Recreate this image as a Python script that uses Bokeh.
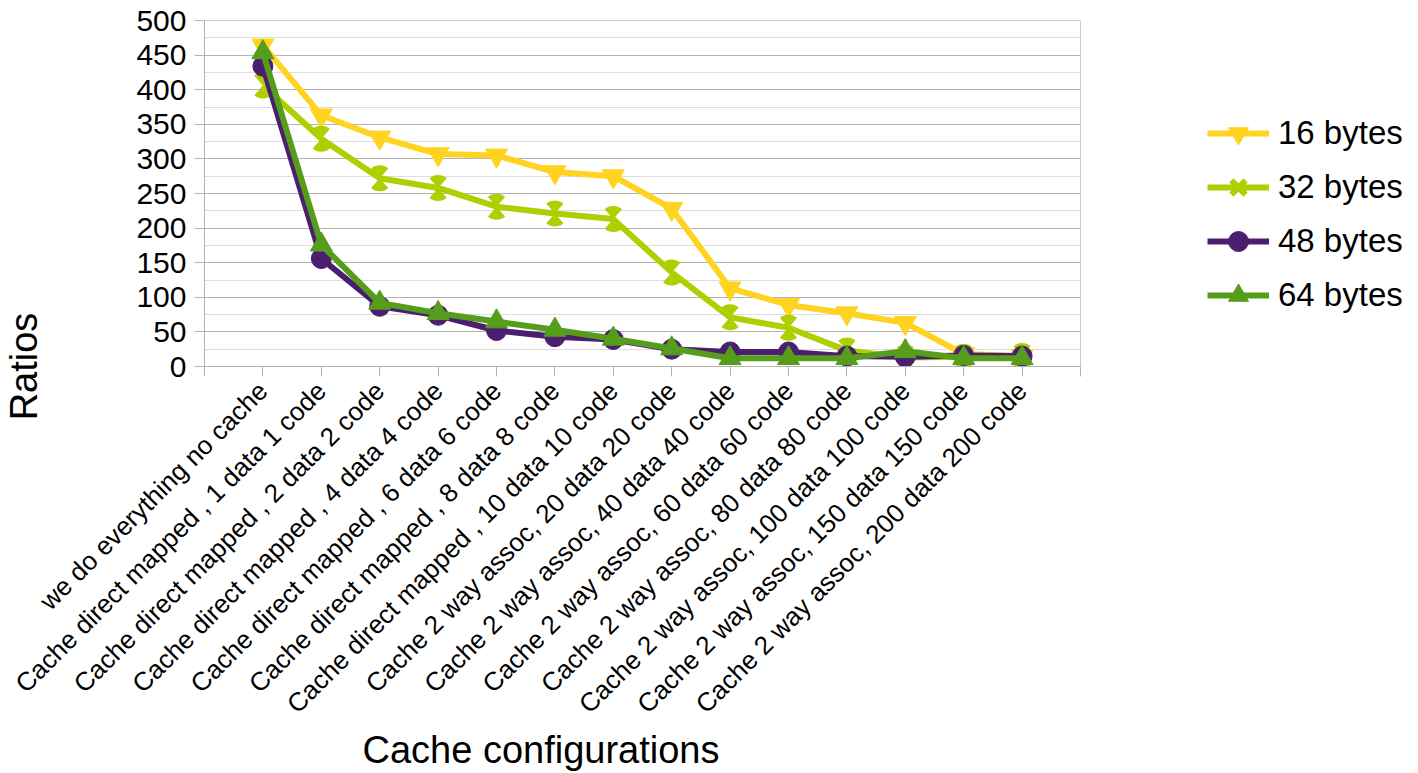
import numpy as np
from math import pi
from bokeh.plotting import figure
from bokeh.layouts import row
from bokeh.models import (FixedTicker, SingleIntervalTicker, Legend, LegendItem,
                          ColumnDataSource, Range1d, Title)
from bokeh.embed import file_html
from bokeh.resources import INLINE

categories = [
    "we do everything no cache",
    "Cache direct mapped , 1 data 1 code",
    "Cache direct mapped , 2 data 2 code",
    "Cache direct mapped , 4 data 4 code",
    "Cache direct mapped , 6 data 6 code",
    "Cache direct mapped , 8 data 8 code",
    "Cache direct mapped , 10 data 10 code",
    "Cache 2 way assoc, 20 data 20 code",
    "Cache 2 way assoc, 40 data 40 code",
    "Cache 2 way assoc, 60 data 60 code",
    "Cache 2 way assoc, 80 data 80 code",
    "Cache 2 way assoc, 100 data 100 code",
    "Cache 2 way assoc, 150 data 150 code",
    "Cache 2 way assoc, 200 data 200 code",
]
series_names = ["16 bytes", "32 bytes", "48 bytes", "64 bytes"]
bytes16 = [464, 363, 331, 307, 305, 281, 275, 228, 113, 89, 77, 63, 18, 15]
bytes32 = [406, 329, 272, 258, 231, 221, 213, 136, 71, 56, 23, 13, 14, 15]
bytes48 = [434, 156, 87, 74, 52, 43, 39, 25, 21, 21, 15, 14, 16, 15]
bytes64 = [454, 176, 92, 77, 65, 53, 40, 26, 12, 12, 12, 22, 12, 12]
y_ticks = list(range(0, 501, 50))

FONT = "Liberation Sans"
colors = ["#ffd320", "#aecf00", "#4b1f6f", "#579d1c"]

x = list(range(1, len(categories) + 1))

p = figure(width=1081, height=773, output_backend="svg", toolbar_location=None,
           x_range=Range1d(0, len(categories) + 1), y_range=Range1d(0, 500),
           min_border_left=202, min_border_right=1, min_border_top=20,
           min_border_bottom=407)
p.outline_line_color = "#cccccc"
p.outline_line_width = 1
p.background_fill_color = "white"
p.border_fill_color = "white"

# grid
p.xgrid.visible = False
p.ygrid.ticker = SingleIntervalTicker(interval=50, num_minor_ticks=2)
p.ygrid.grid_line_color = "#b3b3b3"
p.ygrid.minor_grid_line_color = "#dddddd"

# y axis
yax = p.yaxis[0]
yax.ticker = FixedTicker(ticks=y_ticks)
yax.axis_line_color = "#b3b3b3"
yax.major_tick_line_color = "#b3b3b3"
yax.major_tick_out = 10
yax.major_tick_in = 0
yax.minor_tick_line_color = None
yax.major_label_text_font = FONT
yax.major_label_text_font_size = "30px"
yax.major_label_text_color = "black"
yax.major_label_standoff = 8
yax.axis_label = "Ratios"
yax.axis_label_text_font = FONT
yax.axis_label_text_font_size = "38px"
yax.axis_label_text_font_style = "normal"
yax.axis_label_text_color = "black"
yax.axis_label_standoff = 88
if "axis_label_align" in yax.properties():
    yax.axis_label_align = "start"

# x axis
xax = p.xaxis[0]
xax.ticker = FixedTicker(ticks=list(range(0, len(categories) + 2)))
overrides = {0: "", len(categories) + 1: ""}
for i, c in zip(x, categories):
    overrides[i] = c
xax.major_label_overrides = overrides
xax.major_label_orientation = pi / 4
xax.axis_line_color = "#b3b3b3"
xax.major_tick_line_color = "#b3b3b3"
xax.major_tick_out = 10
xax.major_tick_in = 0
xax.minor_tick_line_color = None
xax.major_label_text_font = FONT
xax.major_label_text_font_size = "26px"
xax.major_label_text_color = "black"
xax.major_label_standoff = 10

xtitle = Title(text="Cache configurations", align="left", offset=158,
               text_font=FONT, text_font_size="38px", text_font_style="normal",
               text_color="black", vertical_align="top")
try:
    xtitle.standoff = -8
except Exception:
    xtitle.standoff = 0
p.add_layout(xtitle, "below")

LW = 6
src16 = ColumnDataSource(dict(x=x, y=bytes16))
src32 = ColumnDataSource(dict(x=x, y=bytes32))
src48 = ColumnDataSource(dict(x=x, y=bytes48))
src64 = ColumnDataSource(dict(x=x, y=bytes64))

p.line("x", "y", source=src16, line_width=LW, color=colors[0], line_join="round")
p.scatter("x", "y", source=src16, marker="inverted_triangle", size=22,
          fill_color=colors[0], line_color=colors[0])

p.line("x", "y", source=src32, line_width=LW, color=colors[1], line_join="round")
p.wedge("x", "y", source=src32, radius=13, radius_units="screen",
        start_angle=0.27 * pi, end_angle=0.73 * pi, fill_color=colors[1], line_color=None)
p.wedge("x", "y", source=src32, radius=13, radius_units="screen",
        start_angle=1.27 * pi, end_angle=1.73 * pi, fill_color=colors[1], line_color=None)

p.line("x", "y", source=src48, line_width=LW, color=colors[2], line_join="round")
p.scatter("x", "y", source=src48, marker="circle", size=20,
          fill_color=colors[2], line_color=colors[2])

p.line("x", "y", source=src64, line_width=LW, color=colors[3], line_join="round")
p.scatter("x", "y", source=src64, marker="triangle", size=22,
          fill_color=colors[3], line_color=colors[3])

# legend panel (separate figure to the right of the plot area;
# its frame is aligned with the main frame by the row layout)
q = figure(width=337, height=773, output_backend="svg", toolbar_location=None,
           x_range=Range1d(-200, -199), y_range=Range1d(-200, -199),
           x_axis_location=None, y_axis_location=None,
           min_border_left=0, min_border_top=20, min_border_right=0,
           min_border_bottom=407)
q.grid.visible = False
q.outline_line_color = None
q.background_fill_color = "white"
q.border_fill_color = "white"

k16 = q.line("x", "y", source=src16, line_width=LW, color=colors[0])
s16 = q.scatter("x", "y", source=src16, marker="inverted_triangle", size=22,
                fill_color=colors[0], line_color=colors[0])
k32 = q.line("x", "y", source=src32, line_width=LW, color=colors[1])
s32 = q.scatter("x", "y", source=src32, marker="x", size=18, line_width=6,
                line_color=colors[1])
k48 = q.line("x", "y", source=src48, line_width=LW, color=colors[2])
s48 = q.scatter("x", "y", source=src48, marker="circle", size=20,
                fill_color=colors[2], line_color=colors[2])
k64 = q.line("x", "y", source=src64, line_width=LW, color=colors[3])
s64 = q.scatter("x", "y", source=src64, marker="triangle", size=22,
                fill_color=colors[3], line_color=colors[3])

legend = Legend(items=[
    LegendItem(label=series_names[0], renderers=[k16, s16]),
    LegendItem(label=series_names[1], renderers=[k32, s32]),
    LegendItem(label=series_names[2], renderers=[k48, s48]),
    LegendItem(label=series_names[3], renderers=[k64, s64]),
], location=(126, 46))
legend.label_text_font = FONT
legend.label_text_font_size = "33px"
legend.label_text_color = "black"
legend.glyph_width = 62
legend.glyph_height = 50
legend.label_height = 50
legend.spacing = 4
legend.label_standoff = 9
legend.padding = 0
legend.margin = 0
legend.border_line_color = None
legend.background_fill_alpha = 0
q.add_layout(legend)

layout = row(p, q)
open("out.html", "w").write(file_html(layout, INLINE))
